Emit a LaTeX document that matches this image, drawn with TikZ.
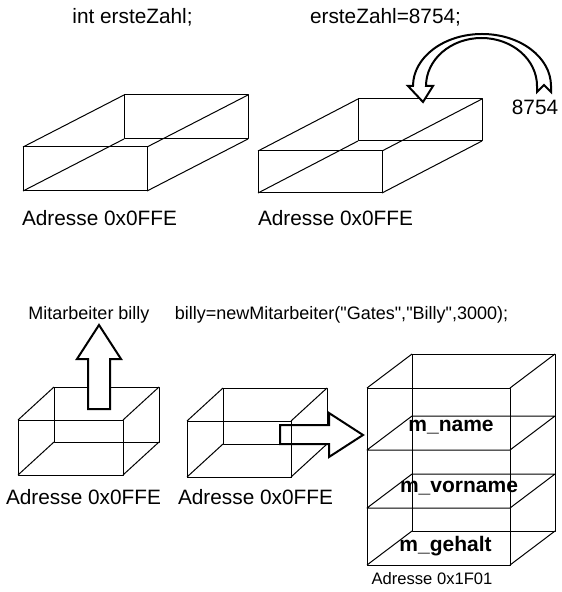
\documentclass[tikz,border=0pt]{standalone}
\usepackage{fontspec}
\setmainfont{Liberation Sans}[Ligatures=TeXOff]
\usepackage{tikz}

% Quader: x, y (vorne links oben), Breite, Hoehe, Tiefe dx, Tiefe dy
\newcommand{\quader}[6]{%
    \draw[kante] (#1, #2) rectangle ++(#3, #4);
    \draw[kante] (#1+#5, #2-#6) rectangle ++(#3, #4);
    \foreach \ex/\ey in {0/0, #3/0, 0/#4, #3/#4}
        \draw[kante] (#1+\ex, #2+\ey) -- ++(#5, -#6);
}

\begin{document}
\begin{tikzpicture}[x=0.5pt, y=-0.5pt,
        kante/.style={line width=0.5pt, line join=round},
        pfeil/.style={line width=1pt, line join=miter},
        txt/.style={anchor=base, inner sep=0pt, font=\fontsize{10.4}{12}\selectfont},
        code/.style={anchor=base, inner sep=0pt, font=\fontsize{9}{11}\selectfont},
        feld/.style={anchor=base, inner sep=0pt, font=\fontsize{10.5}{12}\selectfont\bfseries}]
    \useasboundingbox (0, 0) rectangle (561, 592);

    % oben: Deklaration und Zuweisung
    \node[txt] (dekl) at (132.5, 24) {int ersteZahl;};
    \node[txt] (zuw) at (385.5, 24) {ersteZahl=8754;};
    \node[txt] (wert) at (535, 115) {8754};

    \quader{23}{147}{124}{44}{101}{52}
    \quader{258}{151}{124}{42}{100}{52}

    \node[txt] (adr1) at (99.5, 226) {Adresse 0x0FFE};
    \node[txt] (adr2) at (335.5, 226) {Adresse 0x0FFE};

    % gebogener Pfeil: Wert in die Variable (Radien in pt = halbe Pixel)
    \filldraw[pfeil, fill=white] (551, 92) -- (551, 86)
        arc[start angle=0, end angle=180, x radius=34.5pt, y radius=26pt]
        -- (408, 86) -- (423, 102) -- (433, 86) -- (426, 86)
        arc[start angle=180, end angle=0, x radius=27.75pt, y radius=24pt]
        -- (537, 92) -- (544, 85) -- cycle;

    % unten: Referenz und Objekt
    \node[code] (mitb) at (89, 319) {Mitarbeiter billy};
    \node[code] (neu) at (341.5, 319) {billy=newMitarbeiter("Gates","Billy",3000);};

    \quader{18}{420}{105}{55}{36}{33}
    \filldraw[pfeil, fill=white] (88, 409) -- (88, 359) -- (77, 359) -- (99, 325)
        -- (121, 359) -- (110, 359) -- (110, 409) -- cycle;

    \quader{187}{421}{104}{56}{36}{33}
    \filldraw[pfeil, fill=white] (280, 425) -- (329, 425) -- (329, 413) -- (363, 435)
        -- (329, 457) -- (329, 444) -- (280, 444) -- cycle;
    \draw[kante] (187, 421) rectangle ++(104, 56);

    \node[txt] (adr3) at (83.5, 504) {Adresse 0x0FFE};
    \node[txt] (adr4) at (255.5, 504) {Adresse 0x0FFE};

    % Objekt mit drei Feldern
    \quader{367}{388}{143}{177}{45}{34}
    \foreach \s in {450, 508}
        \draw[kante] (367, \s) -- (510, \s) -- (555, \s-34) -- (412, \s-34) -- cycle;

    \node[feld] (name) at (451, 431) {m\_name};
    \node[feld] (vorname) at (459, 492) {m\_vorname};
    \node[feld] (gehalt) at (445.5, 551) {m\_gehalt};
    \node[anchor=base, inner sep=0pt, font=\fontsize{8.3}{10}\selectfont] (adr5) at (432, 584) {Adresse 0x1F01};
\end{tikzpicture}
\end{document}
